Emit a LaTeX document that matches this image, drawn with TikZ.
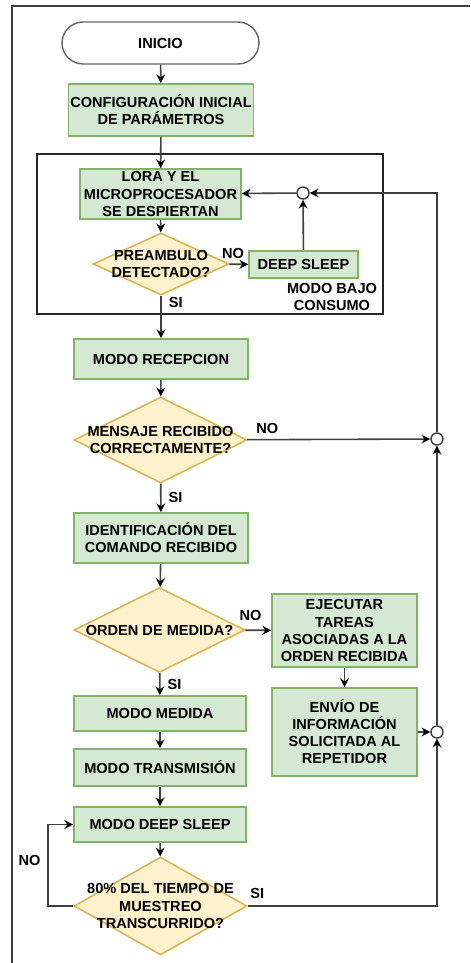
\documentclass[tikz,border=0pt]{standalone}
\usepackage{fontspec}
\setmainfont{Liberation Sans}
\usepackage{tikz}
\usepackage{xcolor}
\usetikzlibrary{arrows.meta,positioning,calc,shapes.geometric}
\definecolor{boxfill}{HTML}{D5E8D4}
\definecolor{boxline}{HTML}{82B366}
\definecolor{askfill}{HTML}{FFF2CC}
\definecolor{askline}{HTML}{D6B656}
\definecolor{wire}{gray}{0.25}

\begin{document}
\begin{tikzpicture}[x=0.02cm,y=-0.02cm,
  font=\fontsize{8.3}{9.7}\selectfont\bfseries,
  stepbox/.style={draw=boxline,fill=boxfill,line width=0.9pt,align=center,inner sep=1pt},
  ask/.style={diamond,draw=askline,fill=askfill,line width=0.9pt,inner sep=0pt},
  junct/.style={circle,draw=wire,fill=white,line width=0.8pt,minimum size=0.24cm,inner sep=0pt},
  flow/.style={draw=wire,line width=0.9pt,-{Stealth[length=5pt,width=5pt,color=black]}},
  tag/.style={inner sep=0pt}]
\useasboundingbox (0,0) rectangle (470,963);
% page frame (cut on the right and bottom)
\draw[draw=wire,line width=1pt] (12,963) |- (470,6);

\node[draw=black!60,fill=white,rounded corners=0.42cm,minimum width=3.94cm,minimum height=0.84cm,line width=0.8pt] (inicio) at (160.5,43) {INICIO};
\node[stepbox,minimum width=3.48cm,minimum height=1.04cm] (config) at (161,110) {CONFIGURACIÓN INICIAL\\DE PARÁMETROS};

% low power block
\draw[draw=black!85,line width=0.8pt] (37,154) rectangle (383,314);
\node[stepbox,minimum width=3.22cm,minimum height=1.0cm] (lora) at (160.5,194) {LORA Y EL\\MICROPROCESADOR\\SE DESPIERTAN};
\node[ask,minimum width=2.72cm,minimum height=1.24cm] (pre) at (161,264) {};
\node[tag,align=center] (pretxt) at (pre) {PREAMBULO\\DETECTADO?};
\node[stepbox,minimum width=2.18cm,minimum height=0.54cm] (sleep) at (303.5,264.5) {DEEP SLEEP};
\node[junct] (j1) at (303,193) {};
\node[tag,align=center] (bajo) at (332,297) {MODO BAJO\\CONSUMO};

\node[stepbox,minimum width=3.48cm,minimum height=0.8cm] (recep) at (161,359) {MODO RECEPCION};
\node[ask,minimum width=3.46cm,minimum height=1.72cm] (msg) at (160.5,440) {};
\node[tag,align=center] (msgtxt) at (msg) {MENSAJE RECIBIDO\\CORRECTAMENTE?};
\node[junct] (j2) at (437,439) {};

\node[stepbox,minimum width=3.48cm,minimum height=1.0cm] (ident) at (161,538) {IDENTIFICACIÓN DEL\\COMANDO RECIBIDO};
\node[ask,minimum width=3.42cm,minimum height=1.7cm] (orden) at (159.5,630) {};
\node[tag] (ordentxt) at (orden) {ORDEN DE MEDIDA?};
\node[stepbox,minimum width=2.9cm,minimum height=1.46cm] (ejec) at (344.5,630.5) {EJECUTAR\\TAREAS\\ASOCIADAS A LA\\ORDEN RECIBIDA};
\node[stepbox,minimum width=2.9cm,minimum height=1.76cm] (envio) at (344.5,732) {ENVÍO DE\\INFORMACIÓN\\SOLICITADA AL\\REPETIDOR};
\node[junct] (j3) at (437,732) {};

\node[stepbox,minimum width=3.44cm,minimum height=0.7cm] (medida) at (160,713.5) {MODO MEDIDA};
\node[stepbox,minimum width=3.44cm,minimum height=0.74cm] (trans) at (160,767.5) {MODO TRANSMISIÓN};
\node[stepbox,minimum width=3.44cm,minimum height=0.7cm] (dsleep) at (160,824.5) {MODO DEEP SLEEP};
\node[ask,minimum width=3.46cm,minimum height=1.96cm] (tiempo) at (160.5,906) {};
\node[tag,align=center] (tiempotxt) at (tiempo) {80\% DEL TIEMPO DE\\MUESTREO\\TRANSCURRIDO?};

% connectors
\draw[flow] (inicio) -- (config);
\draw[flow] (config) -- (lora);
\draw[flow] (lora) -- (pre);
\draw[flow] (pre) -- node[tag,above=3pt,pos=0.2] (no1) {NO} (sleep);
\draw[flow] (sleep) -- (j1);
\draw[flow] (j1) -- (lora);
\draw[flow] (pre) -- node[tag,right=4pt,pos=0.15] (si1) {SI} (recep);
\draw[flow] (recep) -- (msg);
\draw[flow] (msg) -- node[tag,above=3pt,pos=0.11] (no2) {NO} (j2);
\draw[flow] (msg) -- node[tag,right=4pt] (si2) {SI} (ident);
\draw[flow] (ident) -- (orden);
\draw[flow] (orden) -- node[tag,above=5pt,pos=0.2] (no3) {NO} (ejec);
\draw[flow] (ejec) -- (envio);
\draw[flow] (envio) -- (j3);
\draw[flow] (orden) -- node[tag,right=4pt] (si3) {SI} (medida);
\draw[flow] (medida) -- (trans);
\draw[flow] (trans) -- (dsleep);
\draw[flow] (dsleep) -- (tiempo);
\draw[flow] (tiempo.west) -- ++(-25,0) |- node[tag,pos=0.28,left=4pt] (no4) {NO} (dsleep.west);
\draw[flow] (tiempo.east) -| node[tag,pos=0.025,above=4pt] (si4) {SI} (j3.south);
\draw[flow] (j3) -- (j2);
\draw[flow] (j2.north) |- (j1.east);
\end{tikzpicture}
\end{document}
